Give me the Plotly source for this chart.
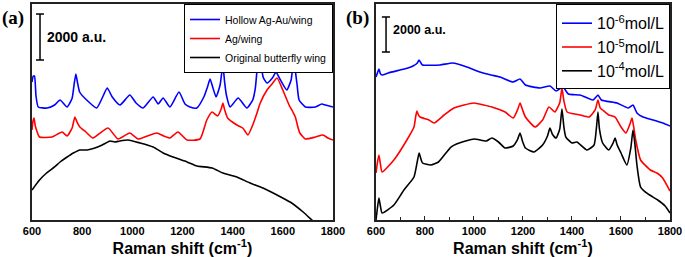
import plotly.graph_objects as go

# ---------------- Panel (a) data (Raman shift cm^-1, intensity a.u.) ----------------
a_blue_x = [600, 605, 610, 616, 625, 660, 690, 712, 740, 760, 768, 775, 782, 790, 818, 858, 880, 900,
            920, 951, 990, 1015, 1043, 1083, 1103, 1123, 1150, 1186, 1210, 1230, 1257, 1285, 1300, 1310,
            1320, 1334, 1350, 1361, 1368, 1375, 1390, 1422, 1457, 1480, 1490, 1498, 1506, 1514, 1522,
            1537, 1560, 1573, 1590, 1616, 1633, 1640, 1645, 1650, 1657, 1665, 1690, 1730, 1755, 1770, 1800]
a_blue_y = [6000, 6260, 6260, 5400, 4916, 4870, 5003, 5220, 4916, 5300, 5900, 6351, 5950, 5568, 5220, 4872, 5307, 5742,
            5351, 5003, 5438, 5090, 4872, 5351, 5046, 5307, 4916, 5568, 5046, 4916, 4872, 5351, 5800, 6134,
            5800, 5351, 5873, 6743, 6000, 5438, 4916, 5307, 4872, 5220, 5700, 6600, 7265, 6700, 6200,
            5960, 6200, 6438, 6100, 5655, 6090, 6700, 7091, 6500, 5873, 5220, 4916, 4916, 5046, 5003, 4916]

a_red_x = [600, 604, 608, 613, 618, 630, 680, 720, 740, 760, 771, 780, 791, 815, 843, 903, 943, 990, 1023,
           1060, 1098, 1125, 1150, 1182, 1218, 1270, 1297, 1318, 1340, 1355, 1361, 1368, 1380, 1417, 1440,
           1461, 1480, 1497, 1510, 1537, 1560, 1577, 1600, 1625, 1640, 1650, 1660, 1668, 1690, 1730, 1760,
           1780, 1800]
a_red_y = [3915, 4300, 4437, 4100, 3915, 3611, 3611, 3828, 3654, 4002, 4481, 4250, 4046, 3828, 3567, 4002, 3524,
           3785, 3524, 3654, 3785, 3654, 3567, 3828, 3480, 3524, 4350, 4698, 4524, 4850, 5090, 4800, 4437,
           4133, 4002, 3698, 4133, 4655, 5090, 5655, 5960, 6177, 5655, 5003, 4698, 4481, 4046, 3785, 3524,
           3611, 3698, 3567, 3480]

a_black_x = [600, 630, 658, 690, 712, 740, 765, 791, 820, 851, 880, 911, 930, 950, 983, 1031, 1083, 1123,
             1162, 1218, 1258, 1318, 1361, 1417, 1469, 1521, 1577, 1629, 1681, 1720, 1760, 1800]
a_black_y = [1305, 1740, 2045, 2306, 2523, 2741, 2915, 3045, 3045, 3132, 3263, 3437, 3393, 3437, 3480, 3350,
             3176, 2915, 2741, 2523, 2349, 2262, 2045, 1871, 1610, 1392, 1088, 783, 348, -44, -435, -870]

a_names = ["Hollow Ag-Au/wing", "Ag/wing", "Original butterfly wing"]

# ---------------- Panel (b) data ----------------
b_blue_x = [600, 606, 612, 618, 625, 650, 698, 730, 751, 768, 776, 784, 790, 861, 914, 971, 1024, 1070, 1106,
            1159, 1188, 1210, 1269, 1310, 1335, 1363, 1385, 1433, 1486, 1506, 1520, 1584, 1630, 1649, 1665,
            1690, 1731, 1770, 1800]
b_blue_y = [8165, 8400, 8622, 8350, 8280, 8394, 8565, 8679, 8793, 8950, 9136, 8950, 8851, 8851, 8965, 8736, 8451,
            8280, 8165, 7880, 8051, 7709, 7537, 7651, 7366, 7594, 7195, 7138, 6852, 7138, 6852, 6681, 6395,
            6567, 6110, 5881, 5710, 5539, 5367]

b_red_x = [600, 606, 612, 618, 625, 673, 726, 755, 762, 767, 773, 780, 816, 837, 878, 918, 959, 1000, 1040,
           1073, 1127, 1160, 1178, 1188, 1198, 1210, 1249, 1280, 1306, 1330, 1350, 1359, 1367, 1380, 1433,
           1470, 1495, 1506, 1515, 1525, 1550, 1576, 1600, 1620, 1637, 1645, 1652, 1660, 1680, 1720, 1747,
           1770, 1800]
b_red_y = [2684, 3300, 3712, 3200, 2741, 3426, 4568, 5310, 5900, 6224, 6000, 5881, 5710, 5539, 5996, 6395, 6567,
           6681, 6567, 6452, 6167, 5824, 6300, 6681, 6300, 5881, 5310, 5710, 6452, 6167, 6700, 7537, 6800,
           6167, 5996, 5881, 6300, 6852, 6400, 6281, 5996, 5881, 5310, 4968, 5500, 5824, 5300, 4568, 3426,
           2855, 2684, 2398, 1656]

b_black_x = [600, 606, 612, 618, 625, 673, 714, 755, 768, 776, 783, 790, 824, 855, 906, 940, 1000, 1050, 1073,
             1100, 1127, 1160, 1178, 1188, 1198, 1210, 1245, 1280, 1300, 1310, 1320, 1335, 1350, 1359, 1367,
             1375, 1400, 1420, 1461, 1490, 1500, 1506, 1512, 1525, 1550, 1568, 1576, 1584, 1600, 1624, 1640,
             1649, 1657, 1665, 1680, 1710, 1750, 1780, 1800]
b_black_y = [0, 700, 1256, 800, 400, 857, 1713, 2455, 3300, 3826, 3500, 3255, 3141, 3312, 4168, 4397, 4625, 4511,
             4682, 4454, 4111, 4225, 4600, 4968, 4500, 4111, 3883, 4283, 4800, 5253, 4900, 4682, 5200, 6338,
             5300, 4739, 4397, 4454, 3997, 4283, 5300, 6167, 5200, 4397, 3997, 4400, 4682, 4300, 3826, 3141,
             4100, 5139, 4300, 3141, 1884, 1485, 1142, 800, 400]

b_names = ["10<sup>-6</sup>mol/L", "10<sup>-5</sup>mol/L", "10<sup>-4</sup>mol/L"]

x_ticks = [600, 800, 1000, 1200, 1400, 1600, 1800]
colors = ["#0000ff", "#ff0000", "#000000"]

fig = go.Figure()

for xs, ys, name, c in zip([a_blue_x, a_red_x, a_black_x], [a_blue_y, a_red_y, a_black_y], a_names, colors):
    fig.add_trace(go.Scatter(x=xs, y=ys, mode="lines", name=name,
                             line=dict(color=c, width=1.6, shape="spline", smoothing=0.5),
                             xaxis="x", yaxis="y", legend="legend"))
for xs, ys, name, c in zip([b_blue_x, b_red_x, b_black_x], [b_blue_y, b_red_y, b_black_y], b_names, colors):
    fig.add_trace(go.Scatter(x=xs, y=ys, mode="lines", name=name,
                             line=dict(color=c, width=1.6, shape="spline", smoothing=0.5),
                             xaxis="x2", yaxis="y2", legend="legend2"))

tickfont = dict(family="Liberation Sans", size=11, color="black", weight="bold")
titlefont = dict(family="Liberation Sans", size=16, color="black", weight="bold")
axis_common = dict(range=[600, 1800], tickvals=x_ticks, showgrid=False, zeroline=False, automargin=False,
                   showline=True, linecolor="#222", linewidth=1.5, mirror=True,
                   tickfont=tickfont, title=dict(text="Raman shift (cm<sup>-1</sup>)", font=titlefont, standoff=0))
yaxis_common = dict(domain=[0, 1], showticklabels=False, ticks="", automargin=False,
                    showgrid=False, zeroline=False, showline=True, linecolor="#222", linewidth=1.5, mirror=True)

fig.update_layout(
    width=685, height=257,
    margin=dict(l=0, r=0, t=4, b=37, autoexpand=False),
    paper_bgcolor="white", plot_bgcolor="white",
    showlegend=True,
    xaxis=dict(domain=[0.0467, 0.4861], anchor="y", ticks="", **axis_common),
    yaxis=dict(anchor="x", range=[0, 9396], **yaxis_common),
    xaxis2=dict(domain=[0.5489, 0.9781], anchor="y2", ticks="inside", ticklen=4, tickcolor="#222",
                minor=dict(ticks="inside", ticklen=3, dtick=100, tickcolor="#222"), **axis_common),
    yaxis2=dict(anchor="x2", range=[0, 12334], **yaxis_common),
    legend=dict(x=0.4861, y=1, xanchor="right", yanchor="top", bgcolor="white",
                bordercolor="black", borderwidth=1, font=dict(family="Liberation Sans", size=10.5, color="black"),
                itemwidth=30, tracegroupgap=0),
    legend2=dict(x=0.9781, y=1, xanchor="right", yanchor="top", bgcolor="white",
                 bordercolor="black", borderwidth=1, font=dict(family="Liberation Sans", size=16, color="black"),
                 itemwidth=30, tracegroupgap=0,
                 title=dict(text=" ", font=dict(size=1))),
)

# scale bars (2000 a.u.)
for xr, yr, xc, x0, x1, y0, y1 in [("x", "y", 632, 616, 648, 6960, 8960), ("x2", "y2", 641, 624, 657, 9593, 11593)]:
    fig.add_shape(type="line", xref=xr, yref=yr, x0=xc, x1=xc, y0=y0, y1=y1, line=dict(color="black", width=1.5))
    fig.add_shape(type="line", xref=xr, yref=yr, x0=x0, x1=x1, y0=y0, y1=y0, line=dict(color="black", width=1.5))
    fig.add_shape(type="line", xref=xr, yref=yr, x0=x0, x1=x1, y0=y1, y1=y1, line=dict(color="black", width=1.5))

fig.add_annotation(text="2000 a.u.", xref="x", yref="y", x=652, y=7960, xanchor="left", yanchor="middle",
                   showarrow=False, font=dict(family="Liberation Sans", size=14, color="black", weight="bold"))
fig.add_annotation(text="2000 a.u.", xref="x2", yref="y2", x=662, y=10850, xanchor="left", yanchor="middle",
                   showarrow=False, font=dict(family="Liberation Sans", size=12.5, color="black", weight="bold"))

# panel labels
fig.add_annotation(text="(a)", xref="paper", yref="paper", x=0.0, y=0.935, xanchor="left", yanchor="middle",
                   showarrow=False, font=dict(family="Liberation Serif", size=19, color="black", weight="bold"))
fig.add_annotation(text="(b)", xref="paper", yref="paper", x=0.502, y=0.935, xanchor="left", yanchor="middle",
                   showarrow=False, font=dict(family="Liberation Serif", size=19, color="black", weight="bold"))

fig.write_html("out.html", post_script="document.body.style.margin='0';",
               config={"displayModeBar": False})
